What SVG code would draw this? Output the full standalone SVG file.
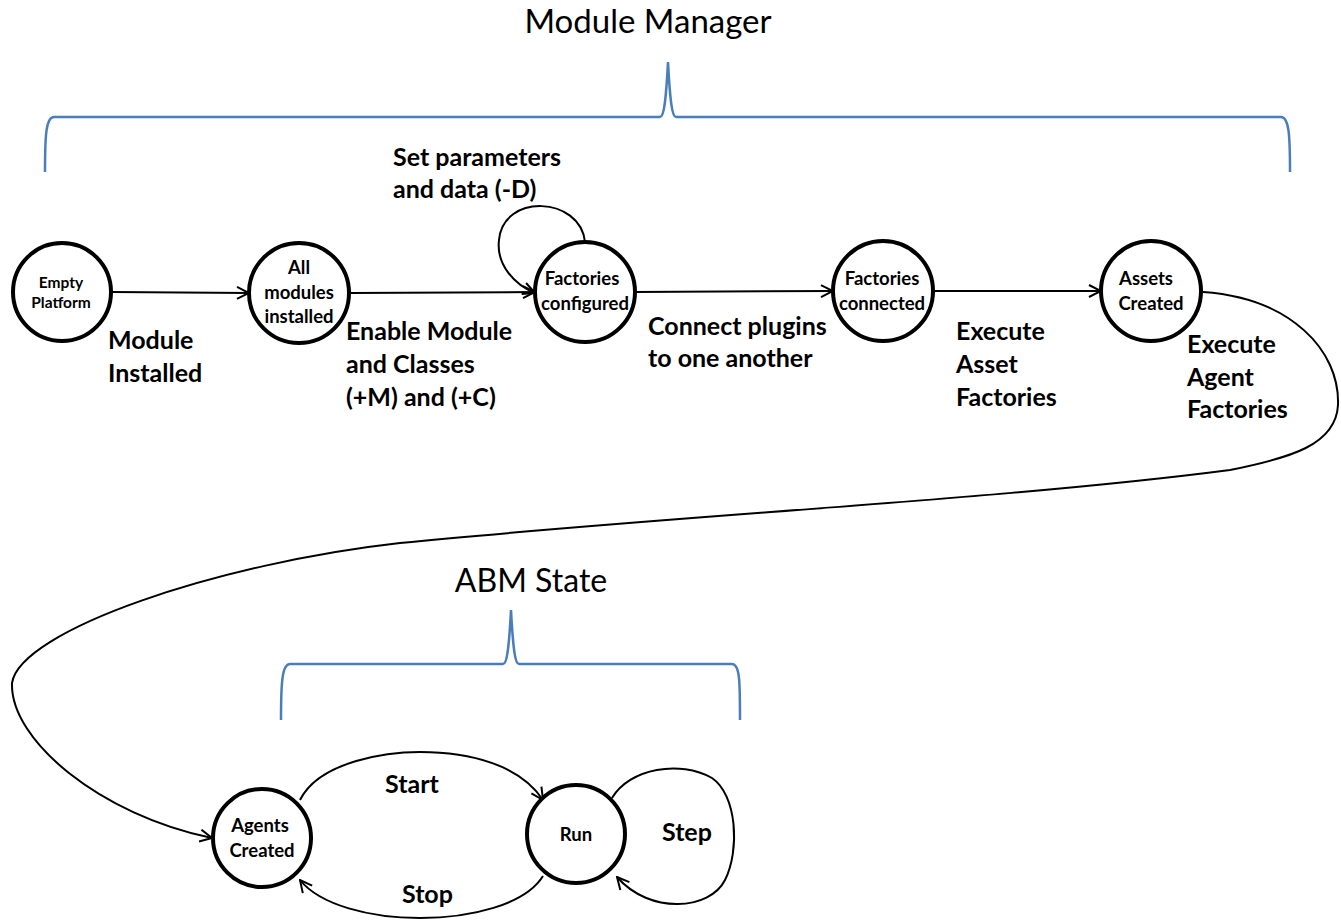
<svg xmlns="http://www.w3.org/2000/svg" width="1341" height="920" viewBox="0 0 1341 920">
  <style>
    .state { fill: #ffffff; stroke: #000000; stroke-width: 4; }
    .node-text { font-family: Lato, "Liberation Sans", sans-serif; font-weight: 700; font-size: 18.5px; fill: #000000; text-anchor: middle; }
    .edge { fill: none; stroke: #000000; stroke-width: 2; }
    .edge-label { font-family: Lato, "Liberation Sans", sans-serif; font-weight: 700; font-size: 25px; fill: #000000; }
    .title { font-family: Lato, "Liberation Sans", sans-serif; font-size: 33px; fill: #000000; text-anchor: middle; }
    .brace { fill: none; stroke: #4a7ebb; stroke-width: 2.5; }
  </style>
  <defs>
    <marker id="open-arrow" viewBox="0 0 14 14" refX="13" refY="7" markerWidth="14" markerHeight="14" markerUnits="userSpaceOnUse" orient="auto">
      <path d="M1,1 L13,7 L1,13" fill="none" stroke="#000000" stroke-width="2"/>
    </marker>
  </defs>
  <rect width="1341" height="920" fill="#ffffff"/>

  <!-- section headings and braces -->
  <g id="module-manager">
    <text class="title" x="648" y="33">Module Manager</text>
    <path class="brace" d="M45,172 C45,135 46,117 54,117 L660,117 C664,117 666,100 668,62 C670,100 672,117 676,117 L1281,117 C1289,117 1290,135 1290,172"/>
  </g>
  <g id="abm-state">
    <text class="title" x="531" y="592" style="font-size:32px">ABM State</text>
    <path class="brace" d="M281,720 C281,683 282,664 290,664 L503,664 C507,664 509,648 511,610 C513,648 515,664 519,664 L732,664 C740,664 740,683 740,720"/>
  </g>

  <!-- connectors -->
  <g id="connectors">
    <path class="edge" d="M112,292 L249,293" marker-end="url(#open-arrow)"/>
    <path class="edge" d="M350,293 L535,292" marker-end="url(#open-arrow)"/>
    <path class="edge" d="M585,242 C580,196 503,193 499,240 C496,265 515,285 535,293" marker-end="url(#open-arrow)"/>
    <path class="edge" d="M635,292 L833,291" marker-end="url(#open-arrow)"/>
    <path class="edge" d="M933,291 L1101,291" marker-end="url(#open-arrow)"/>
    <path class="edge" d="M1203,292 C1290,298 1340,350 1338,405 C1336,445 1290,458 1230,470 C1000,500 680,515 400,543 C220,563 20,630 12,683 C10,740 100,815 212,838" marker-end="url(#open-arrow)"/>
    <path class="edge" d="M300,800 C320,760 390,752 420,752 C470,752 520,765 543,800" marker-end="url(#open-arrow)"/>
    <path class="edge" d="M543,876 C525,905 470,918 420,918 C370,918 320,905 300,880" marker-end="url(#open-arrow)"/>
    <path class="edge" d="M612,798 C630,768 680,760 712,778 C737,795 740,850 725,880 C710,910 650,915 617,877" marker-end="url(#open-arrow)"/>
  </g>

  <!-- connector labels -->
  <g id="labels">
    <text class="edge-label" x="108" y="349">Module</text>
    <text class="edge-label" x="108" y="382">Installed</text>
    <text class="edge-label" x="346" y="340">Enable Module</text>
    <text class="edge-label" x="346" y="373">and Classes</text>
    <text class="edge-label" x="346" y="406">(+M) and (+C)</text>
    <text class="edge-label" x="393" y="166">Set parameters</text>
    <text class="edge-label" x="393" y="198">and data (-D)</text>
    <text class="edge-label" x="648" y="335">Connect plugins</text>
    <text class="edge-label" x="648" y="367">to one another</text>
    <text class="edge-label" x="956" y="340">Execute</text>
    <text class="edge-label" x="956" y="373">Asset</text>
    <text class="edge-label" x="956" y="406">Factories</text>
    <text class="edge-label" x="1187" y="353">Execute</text>
    <text class="edge-label" x="1187" y="386">Agent</text>
    <text class="edge-label" x="1187" y="418">Factories</text>
    <text class="edge-label" x="385" y="793">Start</text>
    <text class="edge-label" x="402" y="903">Stop</text>
    <text class="edge-label" x="662" y="841">Step</text>
  </g>

  <!-- states -->
  <g id="empty-platform">
    <circle class="state" cx="62" cy="292" r="49"/>
    <text class="node-text" x="61" y="288" style="font-size:15.5px">Empty</text>
    <text class="node-text" x="61" y="308" style="font-size:15.5px">Platform</text>
  </g>
  <g id="all-modules-installed">
    <circle class="state" cx="299" cy="293" r="50"/>
    <text class="node-text" x="299" y="274">All</text>
    <text class="node-text" x="299" y="299">modules</text>
    <text class="node-text" x="299" y="323">installed</text>
  </g>
  <g id="factories-configured">
    <circle class="state" cx="585" cy="292" r="50"/>
    <text class="node-text" x="582" y="285">Factories</text>
    <text class="node-text" x="585" y="310">configured</text>
  </g>
  <g id="factories-connected">
    <circle class="state" cx="883" cy="291" r="50"/>
    <text class="node-text" x="882" y="285">Factories</text>
    <text class="node-text" x="882" y="310">connected</text>
  </g>
  <g id="assets-created">
    <circle class="state" cx="1151" cy="291" r="50"/>
    <text class="node-text" x="1146" y="285">Assets</text>
    <text class="node-text" x="1151" y="310">Created</text>
  </g>
  <g id="agents-created">
    <circle class="state" cx="262" cy="838" r="49"/>
    <text class="node-text" x="260" y="832">Agents</text>
    <text class="node-text" x="262" y="857">Created</text>
  </g>
  <g id="run">
    <circle class="state" cx="576" cy="834" r="49"/>
    <text class="node-text" x="576" y="841">Run</text>
  </g>
</svg>
